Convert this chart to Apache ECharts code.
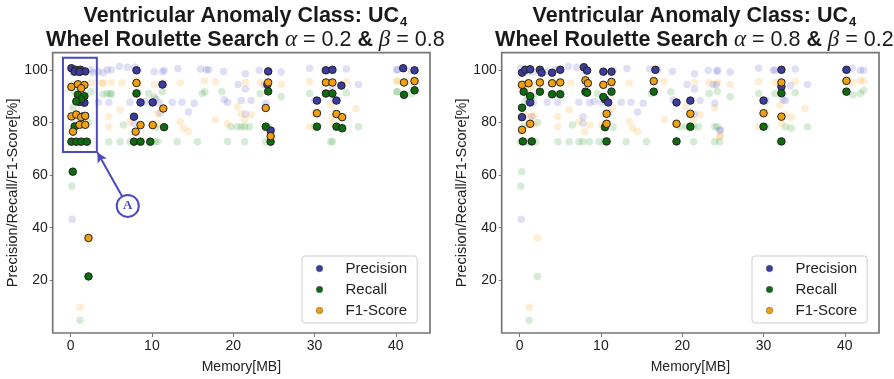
<!DOCTYPE html>
<html>
<head>
<meta charset="utf-8">
<script src="https://cdn.jsdelivr.net/npm/echarts@6/dist/echarts.min.js"></script>
<style>
html,body{margin:0;padding:0;background:#fff;}
#chart{width:894px;height:379px;}
</style>
</head>
<body>
<div id="chart"></div>
<script>
// ---- Data (Memory[MB], score[%]) ----
// Explored configurations not on either panel's selection (faded cloud)
const cloudPrecision = [
  [3.4,99.4],[4.5,100],[6.0,101.3],[7.0,101],[11.5,99.8],[13.2,100.5],[16.0,100.3],[17.0,100],[18.8,99.4],
  [3.4,87.7],[4.7,87.7],[7.3,87.7],[9.2,88],[12.5,87.7],[13.7,87.7],[15.2,87.3],[18.9,88.6],
  [11.0,83.5],[7.8,79.7],[14.5,84],
  [21.5,98.5],[23.2,99.8],[24.3,99.8],[25.9,99.2],[29.4,100.6],[31.2,99.8],[33.9,100.3],[40.1,100],[41.9,99.8],
  [20.6,94.4],[21.5,92.7],[23.8,94.4],[35.4,94.4],[22.2,88.3],[24.0,87.3],[21.5,83.2],[32.4,88.6],[24.7,77.2],
  [0.2,43.2]
];
const cloudRecall = [
  [4.5,91],[4.9,91],[9.6,91],[16.2,91],[18.6,91.7],[2.2,80],[6.5,79],
  [4.7,72.7],[6.1,72.7],[7.3,72.7],[10.4,72.7],[13.1,72.7],[15.6,72.7],
  [23.3,91],[25.9,89.8],[29.4,91],[33.9,91.3],[40.1,91.7],[41.9,91],
  [19.7,78.4],[20.5,78.4],[21.4,78.4],[22.0,78.4],[35.4,78.4],[24.3,78.4],[21.4,72.7],[24.0,72.7],[32.0,72.7],
  [0.15,55.8],[1.17,4.8]
];
const cloudF1 = [
  [3.85,95],[6.3,95],[13.5,95],[17.8,95.5],[6.1,84.8],[4.7,82.2],[7.3,80.3],[13.5,80.3],[4.7,78.4],[13.9,77.8],[14.5,76.5],[17.8,81],
  [21.5,95.2],[23.3,95.2],[25.9,94.4],[29.4,95.6],[33.9,95.6],[40.1,95.6],[41.9,95.8],[20.5,86],[22.2,82.9],[21.4,81],
  [32,86.6],[35.1,85.3],[29.4,78.4],[32.2,79.7],[24.7,74.8],
  [1.17,9.8]
];

// Left panel (alpha = 0.2, beta = 0.8) selected configurations
const leftPrecision = [
  [0.1,100.6],[0.6,100],[1.2,100],[1.8,99.4],[0.5,99.3],[1.1,99.2],[1.7,87.5],[1.1,87.8],[1.5,82.3],
  [8.1,99.8],[11.3,94.4],[8.6,87.6],[10.1,87.6],[7.8,82.2],
  [24.3,99.4],[24.2,94.4],[24.6,76.9],[31.4,99.8],[32.2,100],[33.3,94],[30.3,88.3],[32.7,88.3],[40.9,100.6],[42.3,99.8]
];
const leftRecall = [
  [0.9,90.5],[1.7,90],[1.3,88.8],[0.7,88],[0.5,78.5],[0.1,72.7],[0.7,72.7],[1.3,72.7],[2.0,72.7],
  [8.1,91],[11.5,78.2],[7.8,72.7],[8.6,72.7],[9.8,72.7],
  [24.3,91.8],[24.0,78.4],[24.6,72.7],[31.4,91],[32.2,91],[30.3,78.4],[32.7,78.4],[33.4,77.8],[41.0,90.5],[42.3,92.2],
  [0.27,61.3],[2.2,21.5]
];
const leftF1 = [
  [0.1,93.5],[0.9,94.5],[1.7,94.2],[1.3,93],[0.1,82.3],[0.7,83],[1.3,82],[1.8,82.5],[1.1,79.1],[1.8,79.1],[0.3,76.5],
  [8.1,95],[11.4,85.3],[8.0,76.5],[8.6,79],[10.1,79],
  [24.3,95.2],[24.0,85.5],[24.6,74.8],[31.4,95.2],[32.2,95.2],[30.3,83.5],[32.7,83.2],[33.4,82],[41.0,95.2],[42.3,95.7],
  [2.2,36.1]
];

// Right panel (alpha = 0.8, beta = 0.2) selected configurations
const rightPrecision = [
  [0.3,98.9],[0.7,100],[1.3,100.2],[2.5,100],[2.7,98.9],[4.0,98.9],[5.0,100],[7.9,101],[8.3,99.7],[10.3,99.3],[11.3,99.3],
  [16.7,100],[19.3,87.6],[1.3,87.6],[10.5,88.8],[10.9,87.6],[0.3,82],
  [21.0,88.3],[30.0,88.3],[32.2,100],[32.2,93.6],[40.2,100]
];
const rightRecall = [
  [0.5,91.7],[1.3,90],[2.5,91.7],[4.0,90.7],[5.0,90.7],[8.1,91.7],[8.3,91.3],[10.3,89.7],[11.3,91.7],[16.5,91.7],
  [0.3,85.6],[10.5,78.2],[0.4,72.8],[1.5,72.8],[10.7,72.8],[19.3,72.8],
  [21.0,78.4],[30.0,78.4],[32.2,91.1],[32.2,72.8],[40.2,91.7]
];
const rightF1 = [
  [0.3,94.3],[1.1,94.9],[2.5,95.2],[4.0,94.9],[5.0,95.2],[8.1,96],[8.4,94.9],[10.3,94.3],[11.3,95.4],[16.5,95.7],
  [0.3,77.2],[1.3,79.5],[10.7,83.3],[10.7,79.5],[19.3,79.5],
  [21.0,83.3],[30.0,83.5],[32.2,95.2],[32.2,82.2],[40.2,95.8]
];

const xTicks = [0, 10, 20, 30, 40];
const yTicks = [20, 40, 60, 80, 100];
const seriesNames = ['Precision', 'Recall', 'F1-Score'];
const alphaLabels = ['0.2', '0.8'];
const betaLabels = ['0.8', '0.2'];

// Annotation "A" (data coordinates of the left panel)
const annoBox = [[-0.94, 104.6], [3.23, 68.8]];
const annoArrow = [[6.35, 51.9], [3.3, 68.6]];
const annoCircle = [7.03, 48.3];

// ---- Styling ----
const FONT = "'Liberation Sans', Arial, Helvetica, sans-serif";
const SERIF = "'Liberation Serif', 'DejaVu Serif', serif";
const solidColors = ['#3c3c9e', '#0e6b0e', '#f0a010'];
const fadedColors = ['rgba(75,75,200,0.22)', 'rgba(30,150,30,0.22)', 'rgba(250,170,40,0.25)'];
const annoColor = '#4a4abb';
const panelLeft = [52.7, 501.7];
const panelWidth = 377.3;

const chart = echarts.init(document.getElementById('chart'), null, {renderer: 'canvas'});

const grids = [], xAxes = [], yAxes = [], series = [], titles = [], legends = [];
const selected = [[leftPrecision, leftRecall, leftF1], [rightPrecision, rightRecall, rightF1]];
const clouds = [cloudPrecision, cloudRecall, cloudF1];

for (let p = 0; p < 2; p++) {
  grids.push({left: panelLeft[p], top: 52.7, width: panelWidth, height: 280.6, show: true,
    borderColor: '#777', borderWidth: 1.7, backgroundColor: '#fff'});
  xAxes.push({type: 'value', gridIndex: p, min: -2.2, max: 44.2, position: 'bottom',
    name: 'Memory[MB]', nameLocation: 'middle', nameGap: 27,
    nameTextStyle: {fontFamily: FONT, fontSize: 14, color: '#222'},
    axisLine: {show: false, onZero: false}, splitLine: {show: false},
    axisTick: {show: true, inside: false, length: 4, lineStyle: {color: '#777', width: 1}, customValues: xTicks},
    axisLabel: {fontFamily: FONT, fontSize: 14, color: '#222', margin: 6, customValues: xTicks}});
  yAxes.push({type: 'value', gridIndex: p, min: 0, max: 106.5, position: 'left',
    name: 'Precision/Recall/F1-Score[%]', nameLocation: 'middle', nameGap: 29, nameRotate: 90,
    nameTextStyle: {fontFamily: FONT, fontSize: 14.5, color: '#222'},
    axisLine: {show: false, onZero: false}, splitLine: {show: false},
    axisTick: {show: true, inside: false, length: 3, lineStyle: {color: '#777', width: 1}, customValues: yTicks},
    axisLabel: {fontFamily: FONT, fontSize: 14, color: '#222', margin: 5, customValues: yTicks}});

  const cx = panelLeft[p] + panelWidth / 2;
  titles.push({
    left: cx - 1, top: -1, textAlign: 'center',
    text: '{b|Ventricular Anomaly Class: UC}{sub|4}\n{b|Wheel Roulette Search }{m|α}{r| = ' + alphaLabels[p] + ' }{b|&}{m| β}{r| = ' + betaLabels[p] + '}',
    textStyle: {
      rich: {
        b: {fontFamily: FONT, fontWeight: 'bold', fontSize: 21.5, color: '#1a1a1a', lineHeight: 24},
        sub: {fontFamily: FONT, fontWeight: 'bold', fontSize: 13, color: '#1a1a1a', lineHeight: 13, padding: [12, 0, 0, 1]},
        m: {fontFamily: SERIF, fontStyle: 'italic', fontWeight: 'normal', fontSize: 23, color: '#1a1a1a', lineHeight: 24},
        r: {fontFamily: FONT, fontWeight: 'normal', fontSize: 21.5, color: '#1a1a1a', lineHeight: 24}
      }
    }
  });

  // faded: all explored configurations
  for (let k = 0; k < 3; k++) {
    const all = clouds[k].concat(selected[0][k], selected[1][k]);
    const s = {
      type: 'scatter', name: seriesNames[k] + ' (explored)', xAxisIndex: p, yAxisIndex: p,
      data: all, symbol: 'circle', symbolSize: 7.5, silent: true,
      itemStyle: {color: fadedColors[k], borderWidth: 0}, z: 2
    };
    if (p === 0 && k === 0) {
      s.markArea = {silent: true, itemStyle: {color: 'rgba(0,0,0,0)', borderColor: annoColor, borderWidth: 2},
        data: [[{coord: annoBox[0]}, {coord: annoBox[1]}]]};
      s.markLine = {silent: true, symbol: ['none', 'arrow'], symbolSize: [8, 10],
        lineStyle: {color: annoColor, width: 2, type: 'solid'}, label: {show: false},
        data: [[{coord: annoArrow[0]}, {coord: annoArrow[1]}]]};
      s.markPoint = {silent: true, symbol: 'circle', symbolSize: 22,
        itemStyle: {color: '#fff', borderColor: annoColor, borderWidth: 2},
        label: {show: true, position: 'inside', formatter: 'A', color: annoColor,
          fontFamily: SERIF, fontWeight: 'bold', fontSize: 13},
        data: [{coord: annoCircle}]};
    }
    series.push(s);
  }
  // highlighted (selected) configurations
  for (let k = 0; k < 3; k++) {
    series.push({
      type: 'scatter', name: seriesNames[k], xAxisIndex: p, yAxisIndex: p,
      data: selected[p][k], symbol: 'circle', symbolSize: 7.5,
      itemStyle: {color: solidColors[k], borderColor: '#222', borderWidth: 1, opacity: 1}, z: 3
    });
  }

  legends.push({
    orient: 'vertical', left: [302, 752][p], top: 256,
    padding: [5, 10, 5, 14], itemGap: 6, itemWidth: 14, itemHeight: 6.5,
    backgroundColor: '#fff', borderColor: '#cfcfcf', borderWidth: 1, borderRadius: 3,
    selectedMode: false,
    textStyle: {fontFamily: FONT, fontSize: 15, color: '#222', padding: [0, 0, 0, 14]},
    data: seriesNames.map((n, k) => ({name: n, icon: 'circle',
      itemStyle: {color: solidColors[k], borderColor: '#555', borderWidth: 0.5}}))
  });
}

chart.setOption({
  backgroundColor: '#fff',
  animation: false,
  title: titles,
  grid: grids,
  xAxis: xAxes,
  yAxis: yAxes,
  legend: legends,
  series: series
});
</script>
</body>
</html>
